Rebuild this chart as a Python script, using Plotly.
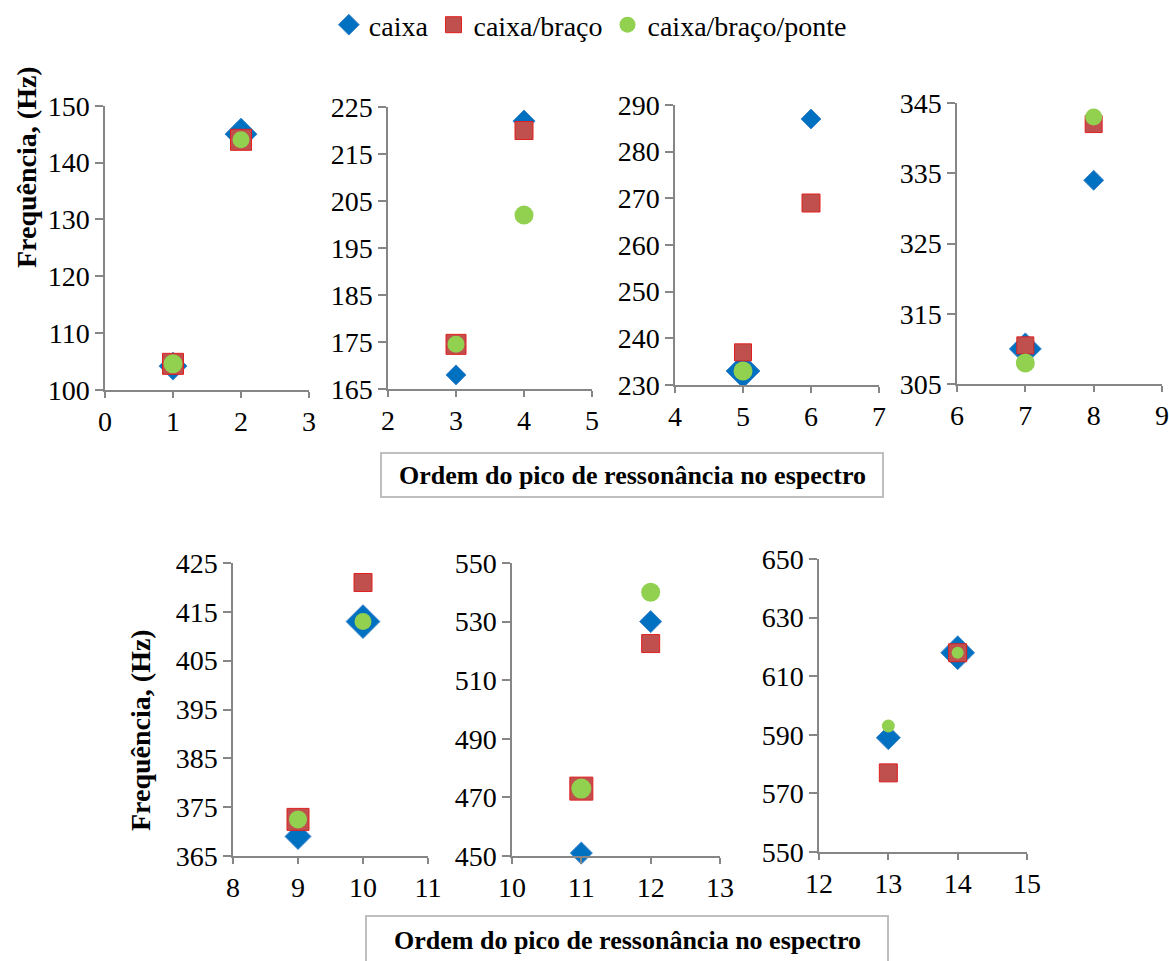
import plotly.graph_objects as go

# ---------------- data ----------------
ordem = [1, 2, 3, 4, 5, 6, 7, 8, 9, 10, 11, 12, 13, 14]
caixa = [104.2, 145, 168, 222, 233, 287, 310, 334, 369, 413, 451, 530, 589, 618]
caixa_braco = [104.6, 144, 174.5, 220, 237, 269, 310.5, 342, 372.5, 421, 473, 522.5, 577, 618]
caixa_braco_ponte = [104.6, 144, 174.5, 202, 233, None, 308, 343, 372.5, 413, 473, 540, 593, 618]

series_names = ["caixa", "caixa/braço", "caixa/braço/ponte"]

x_ranges = [[0, 3], [2, 5], [4, 7], [6, 9], [8, 11], [10, 13], [12, 15]]
y_ranges = [[100, 150], [165, 225], [230, 290], [305, 345], [365, 425], [450, 550], [550, 650]]
y_dticks = [10, 10, 10, 10, 10, 20, 20]

y_title = "Frequência, (Hz)"
x_title = "Ordem do pico de ressonância no espectro"

# ---------------- style ----------------
W, H = 1169, 961
FONT = "Liberation Serif, Times New Roman, serif"
AXIS_COLOR = "#868686"

# panel boxes in pixels: left, right, top, bottom
panels_px = [
    (105, 309, 105.7, 390),
    (388, 592, 107, 389),
    (675, 879, 105, 385),
    (957, 1162, 103, 384),
    (233, 428, 563, 856),
    (512, 720, 563, 856),
    (819, 1027, 559, 852),
]

# per-point marker sizes (two points per panel)
size_diamond = [21.5, 24.6, 15.4, 17, 26, 15.4, 24.6, 15.4, 20, 26, 17, 17, 18.5, 26]
size_square = [21, 21, 20, 18, 17, 18, 17, 17, 22, 18, 23, 18, 18, 18]
size_circle = [19, 17, 17, 19, 19, 17, 19, 17, 18, 17, 20, 19, 13, 12]

styles = [
    dict(symbol="diamond", color="#0070C0", line=dict(color="#3f86cc", width=1), sizes=size_diamond),
    dict(symbol="square", color="#C0504D", line=dict(color="#E02020", width=1), sizes=size_square),
    dict(symbol="circle", color="#92D050", line=dict(color="#92D050", width=0), sizes=size_circle),
]
series_values = [caixa, caixa_braco, caixa_braco_ponte]


def fx(p):
    return p / W


def fy(p):
    return 1 - p / H


fig = go.Figure()
layout = {}

for i, (l, r, t, b) in enumerate(panels_px):
    n = i + 1
    xa = "x" if n == 1 else f"x{n}"
    ya = "y" if n == 1 else f"y{n}"
    sl = slice(2 * i, 2 * i + 2)
    for s, (name, vals, st) in enumerate(zip(series_names, series_values, styles)):
        fig.add_trace(go.Scatter(
            x=ordem[sl], y=vals[sl], mode="markers", name=name,
            legendgroup=name, showlegend=(i == 0),
            marker=dict(symbol=st["symbol"], color=st["color"], size=st["sizes"][sl],
                        line=st["line"], opacity=1),
            xaxis=xa, yaxis=ya, cliponaxis=False,
        ))
    axis_common = dict(
        showline=True, linecolor=AXIS_COLOR, linewidth=1.5,
        showgrid=False, zeroline=False, ticks="outside",
        tickcolor=AXIS_COLOR, tickwidth=1.5,
        tickfont=dict(family=FONT, size=28, color="black"),
        fixedrange=True, automargin=False,
    )
    layout[f"xaxis{n}" if n > 1 else "xaxis"] = dict(
        axis_common, domain=[fx(l), fx(r)], range=x_ranges[i], dtick=1, tick0=0,
        anchor=ya, ticklen=6,
    )
    layout[f"yaxis{n}" if n > 1 else "yaxis"] = dict(
        axis_common, domain=[fy(b), fy(t)], range=y_ranges[i], dtick=y_dticks[i],
        tick0=y_ranges[i][0], anchor=xa, ticklen=8,
    )

ann_common = dict(xref="paper", yref="paper", showarrow=False, xanchor="center", yanchor="middle")
annotations = [
    dict(ann_common, text=f"<b>{y_title}</b>", x=fx(27), y=fy(167), textangle=-90,
         font=dict(family=FONT, size=28, color="black")),
    dict(ann_common, text=f"<b>{y_title}</b>", x=fx(140), y=fy(730), textangle=-90,
         font=dict(family=FONT, size=28, color="black")),
    dict(ann_common, text=f"<b>{x_title}</b>", x=fx(632), y=fy(475),
         font=dict(family=FONT, size=26, color="black")),
    dict(ann_common, text=f"<b>{x_title}</b>", x=fx(627), y=fy(940),
         font=dict(family=FONT, size=26, color="black")),
]

shapes = [
    dict(type="rect", xref="paper", yref="paper", x0=fx(381), x1=fx(883), y0=fy(497), y1=fy(453),
         line=dict(color="#BFBFBF", width=2), fillcolor="rgba(0,0,0,0)"),
    dict(type="rect", xref="paper", yref="paper", x0=fx(366), x1=fx(888), y0=fy(965), y1=fy(916),
         line=dict(color="#BFBFBF", width=2), fillcolor="rgba(0,0,0,0)"),
]

fig.update_layout(
    **layout,
    width=W, height=H,
    margin=dict(l=0, r=0, t=0, b=0, autoexpand=False),
    paper_bgcolor="white", plot_bgcolor="white",
    annotations=annotations, shapes=shapes,
    legend=dict(orientation="h", x=0.505, xanchor="center", y=fy(25), yanchor="middle",
                font=dict(family=FONT, size=28, color="black"), itemwidth=30,
                bgcolor="rgba(0,0,0,0)", tracegroupgap=0),
    showlegend=True,
)

fig.write_html(
    "out.html",
    config={"displayModeBar": False},
    post_script="document.body.style.margin='0';document.body.style.overflow='hidden';",
)
